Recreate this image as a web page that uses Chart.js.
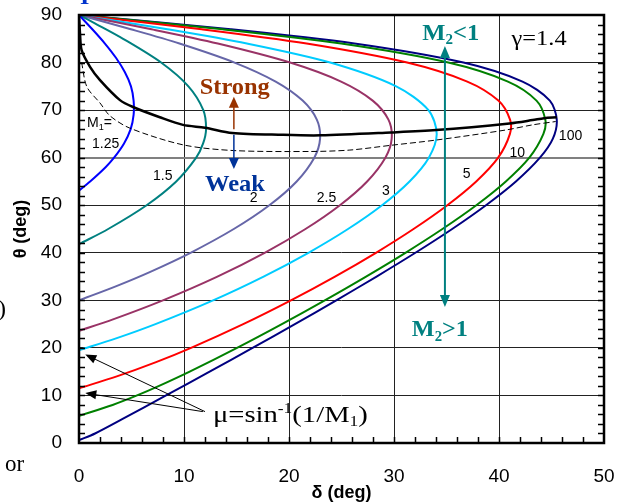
<!DOCTYPE html>
<html>
<head>
<meta charset="utf-8">
<script src="https://cdn.jsdelivr.net/npm/chart.js@4/dist/chart.umd.min.js"></script>
<style>
  html, body { margin: 0; padding: 0; background: #fff; }
  #wrap { position: relative; width: 618px; height: 504px; }
  canvas { display: block; }
</style>
</head>
<body>
<div id="wrap"><canvas id="chart" width="618" height="504"></canvas></div>
<script>
// Shock angle theta (deg) and deflection delta (deg), one pair per Mach number
const theta125 = [53.1, 55, 58, 60, 63, 66, 69, 72, 75, 78, 81, 84, 87, 90];
const delta125 = [0, 1.06, 2.53, 3.34, 4.29, 4.92, 5.2, 5.2, 4.95, 4.36, 3.52, 2.47, 1.27, 0];

const theta15 = [41.8, 45, 50, 55, 60, 63, 66, 70, 75, 80, 85, 88, 90];
const delta15 = [0, 2.78, 6.44, 9.26, 11.16, 11.82, 12.1, 11.84, 10.42, 7.82, 4.2, 1.72, 0];

const theta2 = [30, 33, 36, 40, 45, 50, 55, 60, 64, 68, 72, 76, 80, 84, 87, 90];
const delta2 = [0, 3.56, 6.79, 10.62, 14.74, 18.13, 20.73, 22.41, 22.96, 22.65, 21.3, 18.73, 14.81, 9.57, 4.94, 0];

const theta25 = [23.6, 26, 30, 35, 40, 45, 50, 55, 60, 64, 68, 72, 76, 80, 84, 87, 90];
const delta25 = [0, 3.24, 7.99, 13.18, 17.68, 21.57, 24.85, 27.44, 29.18, 29.78, 29.47, 27.97, 24.96, 20.1, 13.22, 6.9, 0];

const theta3 = [19.5, 22, 25, 30, 35, 40, 45, 50, 55, 60, 65, 70, 75, 80, 84, 87, 90];
const delta3 = [0, 3.53, 7.28, 12.77, 17.58, 21.85, 25.62, 28.86, 31.48, 33.32, 34.07, 33.28, 30.21, 23.92, 15.99, 8.42, 0];

const theta5 = [11.5, 14, 17, 20, 25, 30, 35, 40, 45, 50, 55, 60, 65, 68, 72, 76, 80, 84, 87, 90];
const delta5 = [0, 3.6, 7.34, 10.67, 15.64, 20.18, 24.38, 28.28, 31.86, 35.08, 37.83, 39.92, 41.04, 41.05, 39.94, 36.98, 31.25, 21.68, 11.68, 0];

const theta10 = [5.7, 8, 10, 12, 15, 20, 25, 30, 35, 40, 45, 50, 55, 60, 65, 68, 72, 76, 80, 84, 87, 90];
const delta10 = [0, 3.2, 5.53, 7.63, 10.54, 15.05, 19.32, 23.41, 27.34, 31.09, 34.61, 37.84, 40.65, 42.89, 44.23, 44.41, 43.57, 40.85, 35.17, 24.97, 13.67, 0];

const theta100 = [0.6, 2, 5, 10, 15, 20, 25, 30, 35, 40, 45, 50, 55, 60, 64, 68, 72, 76, 80, 84, 87, 90];
const delta100 = [0, 1.53, 4.11, 8.29, 12.44, 16.53, 20.56, 24.5, 28.34, 32.04, 35.54, 38.76, 41.61, 43.9, 45.13, 45.5, 44.84, 42.24, 36.61, 26.23, 14.45, 0];

// maximum deflection line (strong / weak boundary)
const thetaMax = [90, 86, 82.6, 79.1, 76.3, 72.1, 70.6, 68.5, 66.9, 66.3, 65.2, 64.8, 64.7, 65.3, 65.8, 67.2, 67.9, 68.3, 68.5];
const deltaMax = [0, 0.1, 0.25, 1.05, 2.0, 3.9, 5.2, 7.7, 9.9, 12.0, 14.6, 19.4, 23.0, 29.7, 34.0, 41.0, 43.2, 44.3, 45.5];

// sonic line M2 = 1
const thetaSonic = [80, 74.9, 71.5, 68.8, 66.2, 62.7, 61.5, 61.3, 61.6, 62.6, 63.7, 65.8, 66.9, 67.6];
const deltaSonic = [0.25, 0.75, 2.0, 2.95, 4.85, 9.9, 14.7, 22.0, 25.8, 29.7, 34.0, 40.6, 43.2, 45.4];

const xTicks = [0, 10, 20, 30, 40, 50];
const yTicks = [0, 10, 20, 30, 40, 50, 60, 70, 80, 90];

const machLabels = ['1.25', '1.5', '2', '2.5', '3', '5', '10', '100'];
const machColors = ['#0000ff', '#008080', '#6666a8', '#993366', '#00ccff', '#ff0000', '#008000', '#000080'];

const SANS = '"Liberation Sans", Arial, sans-serif';
const SERIF = '"Liberation Serif", "Times New Roman", serif';

function pts(delta, theta) {
  return theta.map((t, i) => ({ x: delta[i], y: t }));
}

const curves = [
  [delta125, theta125], [delta15, theta15], [delta2, theta2], [delta25, theta25],
  [delta3, theta3], [delta5, theta5], [delta10, theta10], [delta100, theta100]
];

const datasets = [
  {
    label: 'max deflection',
    data: pts(deltaMax, thetaMax),
    borderColor: '#000', borderWidth: 2.5, tension: 0.3
  },
  {
    label: 'sonic',
    data: pts(deltaSonic, thetaSonic),
    borderColor: '#000', borderWidth: 1, borderDash: [6, 3], tension: 0.3
  }
];
curves.forEach((c, i) => {
  datasets.push({
    label: 'M1=' + machLabels[i],
    data: pts(c[0], c[1]),
    borderColor: machColors[i], borderWidth: 2, tension: 0.3
  });
});

// text pieces; sub / sup shift the baseline; width (optional) stretches the run
function drawRich(ctx, parts, x, y, size, family, weight, color, width) {
  const fontOf = p => weight + ' ' + ((p.sub || p.sup) ? Math.round(size * 0.62) : size) + 'px ' + family;
  let total = 0;
  parts.forEach(p => { ctx.font = fontOf(p); total += ctx.measureText(p.t).width; });
  const k = width ? width / total : 1;
  ctx.save();
  ctx.translate(x, y);
  ctx.scale(k, 1);
  ctx.fillStyle = color;
  ctx.textBaseline = 'alphabetic';
  ctx.textAlign = 'left';
  let cx = 0;
  parts.forEach(p => {
    ctx.font = fontOf(p);
    const dy = p.sub ? size * 0.18 : (p.sup ? -size * 0.38 : 0);
    ctx.fillText(p.t, cx, dy);
    cx += ctx.measureText(p.t).width;
  });
  ctx.restore();
}

function arrow(ctx, x1, y1, x2, y2, color, lw, head, headW) {
  const a = Math.atan2(y2 - y1, x2 - x1);
  ctx.strokeStyle = color;
  ctx.fillStyle = color;
  ctx.lineWidth = lw;
  ctx.beginPath();
  ctx.moveTo(x1, y1);
  ctx.lineTo(x2 - Math.cos(a) * head * 0.8, y2 - Math.sin(a) * head * 0.8);
  ctx.stroke();
  ctx.beginPath();
  ctx.moveTo(x2, y2);
  ctx.lineTo(x2 - Math.cos(a) * head + Math.sin(a) * headW, y2 - Math.sin(a) * head - Math.cos(a) * headW);
  ctx.lineTo(x2 - Math.cos(a) * head - Math.sin(a) * headW, y2 - Math.sin(a) * head + Math.cos(a) * headW);
  ctx.closePath();
  ctx.fill();
}

const decorPlugin = {
  id: 'decor',
  afterDatasetsDraw(chart) {
    const { ctx, chartArea: a, scales: { x, y } } = chart;
    ctx.save();
    // frame
    ctx.strokeStyle = '#000';
    ctx.lineWidth = 2.5;
    ctx.strokeRect(a.left, a.top, a.right - a.left, a.bottom - a.top);
    // minor ticks every 2 deg
    ctx.lineWidth = 1.5;
    ctx.beginPath();
    for (let v = 2; v < 90; v += 2) {
      const py = Math.round(y.getPixelForValue(v)) + 0.5;
      ctx.moveTo(a.left, py); ctx.lineTo(a.left + 6, py);
      ctx.moveTo(a.right, py); ctx.lineTo(a.right - 6, py);
    }
    for (let v = 2; v < 50; v += 2) {
      const px = Math.round(x.getPixelForValue(v)) + 0.5;
      ctx.moveTo(px, a.bottom); ctx.lineTo(px, a.bottom - 6);
    }
    ctx.stroke();
    ctx.restore();
  },
  afterDraw(chart) {
    const { ctx, scales: { x, y } } = chart;
    const X = v => x.getPixelForValue(v);
    const Y = v => y.getPixelForValue(v);
    ctx.save();

    // Mach number labels
    drawRich(ctx, [{ t: 'M' }, { t: '1', sub: true }, { t: '=' }], X(0.76), Y(66.4), 14, SANS, 'normal', '#000', 25);
    const lab = [['1.25', 1.24, 62.0], ['1.5', 7.05, 55.3], ['2', 16.25, 50.7], ['2.5', 22.65, 50.7],
                 ['3', 28.85, 52.1], ['5', 36.55, 55.7], ['10', 41.0, 60.1], ['100', 45.7, 63.7]];
    lab.forEach(l => drawRich(ctx, [{ t: l[0] }], X(l[1]), Y(l[2]), 14, SANS, 'normal', '#000'));

    drawRich(ctx, [{ t: 'γ=1.4' }], X(41.2), Y(83.7), 22, SERIF, 'normal', '#000', 55);

    // strong / weak
    drawRich(ctx, [{ t: 'Strong' }], X(11.5), Y(73.3), 24, SERIF, 'bold', '#993300', 70);
    arrow(ctx, X(14.75), Y(66.0), X(14.75), Y(72.8), '#993300', 1.5, 11, 5);
    drawRich(ctx, [{ t: 'Weak' }], X(12.0), Y(53.0), 24, SERIF, 'bold', '#003399', 60);
    arrow(ctx, X(14.75), Y(64.8), X(14.75), Y(57.6), '#003399', 1.5, 11, 5);

    // M2 region arrow
    arrow(ctx, X(34.85), Y(50), X(34.85), Y(83.5), '#008080', 2, 12, 5);
    arrow(ctx, X(34.85), Y(50), X(34.85), Y(28.6), '#008080', 2, 12, 5);
    drawRich(ctx, [{ t: 'M' }, { t: '2', sub: true }, { t: '<1' }], X(32.7), Y(84.8), 23, SERIF, 'bold', '#008080', 57);
    drawRich(ctx, [{ t: 'M' }, { t: '2', sub: true }, { t: '>1' }], X(31.7), Y(22.4), 23, SERIF, 'bold', '#008080', 56);

    // Mach angle note
    arrow(ctx, X(12.0), Y(6.6), X(0.6), Y(18.6), '#000', 1, 11, 4.5);
    arrow(ctx, X(11.8), Y(6.6), X(0.6), Y(10.5), '#000', 1, 11, 4.5);
    drawRich(ctx, [{ t: 'μ=sin' }, { t: '-1', sup: true }, { t: '(1/M' }, { t: '1', sub: true }, { t: ')' }],
      X(12.75), Y(4.5), 23, SERIF, 'normal', '#000', 155);

    // bits of the surrounding page
    drawRich(ctx, [{ t: ')' }], -2, 316, 24, SERIF, 'normal', '#000');
    drawRich(ctx, [{ t: 'or' }], 5, 471, 23, SERIF, 'normal', '#000');
    drawRich(ctx, [{ t: 's' }], -9, 236, 22, SERIF, 'bold', '#cc4400');
    drawRich(ctx, [{ t: 'I' }], 80, 4, 24, SERIF, 'bold', '#0033cc');
    ctx.restore();
  }
};

const tickFont = { family: SANS, size: 19 };

function noPad(s) {
  s.paddingTop = 0; s.paddingBottom = 0; s.paddingLeft = 0; s.paddingRight = 0;
}

const chart = new Chart(document.getElementById('chart'), {
  type: 'scatter',
  data: { datasets },
  options: {
    responsive: false,
    animation: false,
    showLine: true,
    elements: { point: { radius: 0 } },
    layout: { padding: { top: 15, right: 14, left: 0, bottom: 0 } },
    plugins: { legend: { display: false }, tooltip: { enabled: false } },
    scales: {
      x: {
        type: 'linear', min: 0, max: 50,
        afterBuildTicks: s => { s.ticks = xTicks.map(v => ({ value: v })); },
        afterFit: s => { s.height = 61; noPad(s); },
        ticks: { font: tickFont, color: '#000', padding: 22, maxRotation: 0 },
        grid: { color: '#222', lineWidth: 1, drawTicks: false },
        border: { display: false },
        title: { display: true, text: 'δ (deg)', color: '#000', font: { family: SANS, size: 18, weight: 'bold' }, padding: { top: 0, bottom: 0 } }
      },
      y: {
        type: 'linear', min: 0, max: 90,
        afterBuildTicks: s => { s.ticks = yTicks.map(v => ({ value: v })); },
        afterFit: s => { s.width = 79; noPad(s); },
        ticks: { font: tickFont, color: '#000', padding: 17 },
        grid: {
          color: c => c.tick && c.tick.value === 60 ? '#808080' : '#222',
          lineWidth: c => c.tick && c.tick.value === 60 ? 2 : 1,
          drawTicks: false
        },
        border: { display: false },
        title: { display: true, text: 'θ (deg)', color: '#000', font: { family: SANS, size: 18, weight: 'bold' }, padding: { top: 10, bottom: 0 } }
      }
    }
  },
  plugins: [decorPlugin]
});
</script>
</body>
</html>
